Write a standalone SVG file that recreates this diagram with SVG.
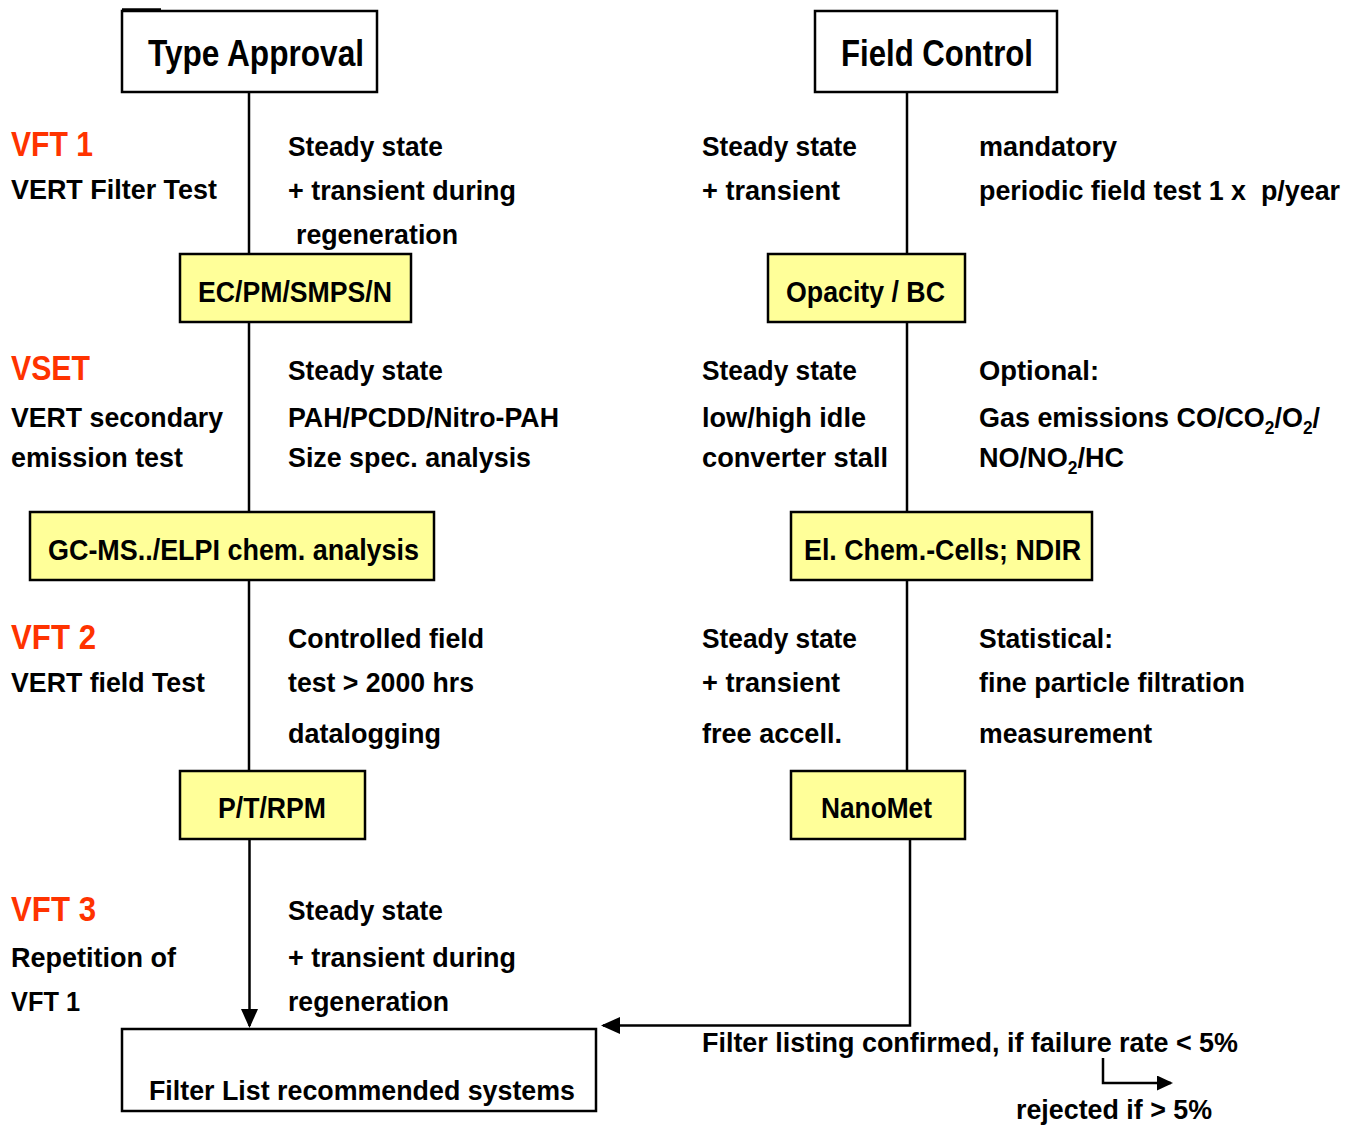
<svg xmlns="http://www.w3.org/2000/svg" width="1358" height="1125" viewBox="0 0 1358 1125">
<style>
text{font-family:"Liberation Sans",Arial,sans-serif;font-weight:bold;fill:#000;}
.b{font-size:28px;}
.r{font-size:35px;fill:#FF3300;}
.t{font-size:37px;}
.n{font-size:29px;}
.wb{fill:#fff;stroke:#000;stroke-width:2.5;}
.yb{fill:#FFFF99;stroke:#000;stroke-width:2.5;}
.c{fill:none;stroke:#000;stroke-width:2.5;}
.s{font-size:18px;}
</style>
<defs>
<marker id="ah" markerWidth="19" markerHeight="17" refX="17" refY="8.5" orient="auto" markerUnits="userSpaceOnUse" viewBox="0 0 19 17">
<path d="M0,0 L19,8.5 L0,17 Z" fill="#000"/>
</marker>
<marker id="ahs" markerWidth="16" markerHeight="15" refX="14" refY="7.5" orient="auto" markerUnits="userSpaceOnUse" viewBox="0 0 16 15">
<path d="M0,0 L16,7.5 L0,15 Z" fill="#000"/>
</marker>
</defs>
<rect width="1358" height="1125" fill="#fff"/>

<g id="connectors">
<line class="c" x1="249" y1="92" x2="249" y2="254"/>
<line class="c" x1="249" y1="322" x2="249" y2="512"/>
<line class="c" x1="249" y1="580" x2="249" y2="771"/>
<line class="c" x1="249.5" y1="839" x2="249.5" y2="1026" marker-end="url(#ah)"/>
<line class="c" x1="907" y1="92" x2="907" y2="254"/>
<line class="c" x1="907" y1="322" x2="907" y2="512"/>
<line class="c" x1="907" y1="580" x2="907" y2="771"/>
<polyline class="c" points="910,839 910,1025.5 603,1025.5" marker-end="url(#ah)"/>
<polyline class="c" points="1103,1058 1103,1083 1171,1083" marker-end="url(#ahs)"/>
</g>

<g id="type-approval">
<rect class="wb" x="122" y="11" width="255" height="81"/>
<line x1="122" y1="9.5" x2="161" y2="9.5" stroke="#000" stroke-width="2.5"/>
<text class="t" x="148" y="66" textLength="216" lengthAdjust="spacingAndGlyphs">Type Approval</text>
</g>
<g id="field-control">
<rect class="wb" x="815" y="11" width="242" height="81"/>
<text class="t" x="841" y="66" textLength="192" lengthAdjust="spacingAndGlyphs">Field Control</text>
</g>
<g id="ec-pm">
<rect class="yb" x="180" y="254" width="231" height="68"/>
<text class="n" x="198" y="302" textLength="194" lengthAdjust="spacingAndGlyphs">EC/PM/SMPS/N</text>
</g>
<g id="opacity">
<rect class="yb" x="768" y="254" width="197" height="68"/>
<text class="n" x="786" y="302" textLength="159" lengthAdjust="spacingAndGlyphs">Opacity / BC</text>
</g>
<g id="gc-ms">
<rect class="yb" x="30" y="512" width="404" height="68"/>
<text class="n" x="48" y="560" textLength="371" lengthAdjust="spacingAndGlyphs">GC-MS../ELPI chem. analysis</text>
</g>
<g id="el-chem">
<rect class="yb" x="791" y="512" width="301" height="68"/>
<text class="n" x="804" y="560" textLength="277" lengthAdjust="spacingAndGlyphs">El. Chem.-Cells; NDIR</text>
</g>
<g id="ptrpm">
<rect class="yb" x="180" y="771" width="185" height="68"/>
<text class="n" x="218" y="818" textLength="108" lengthAdjust="spacingAndGlyphs">P/T/RPM</text>
</g>
<g id="nanomet">
<rect class="yb" x="791" y="771" width="174" height="68"/>
<text class="n" x="821" y="818" textLength="111" lengthAdjust="spacingAndGlyphs">NanoMet</text>
</g>
<g id="filter-list">
<rect class="wb" x="122" y="1029" width="474" height="82"/>
<text class="b" x="149" y="1100" textLength="426" lengthAdjust="spacingAndGlyphs">Filter List recommended systems</text>
</g>

<g id="labels-left">
<text class="r" x="11" y="156" textLength="82" lengthAdjust="spacingAndGlyphs">VFT 1</text>
<text class="b" x="11" y="199" textLength="206" lengthAdjust="spacingAndGlyphs">VERT Filter Test</text>
<text class="r" x="11" y="380" textLength="79" lengthAdjust="spacingAndGlyphs">VSET</text>
<text class="b" x="11" y="427" textLength="212" lengthAdjust="spacingAndGlyphs">VERT secondary</text>
<text class="b" x="11" y="467" textLength="172" lengthAdjust="spacingAndGlyphs">emission test</text>
<text class="r" x="11" y="649" textLength="85" lengthAdjust="spacingAndGlyphs">VFT 2</text>
<text class="b" x="11" y="692" textLength="194" lengthAdjust="spacingAndGlyphs">VERT field Test</text>
<text class="r" x="11" y="921" textLength="85" lengthAdjust="spacingAndGlyphs">VFT 3</text>
<text class="b" x="11" y="967" textLength="165" lengthAdjust="spacingAndGlyphs">Repetition of</text>
<text class="b" x="11" y="1011" textLength="69" lengthAdjust="spacingAndGlyphs">VFT 1</text>
</g>

<g id="labels-col2">
<text class="b" x="288" y="156" textLength="155" lengthAdjust="spacingAndGlyphs">Steady state</text>
<text class="b" x="288" y="200" textLength="228" lengthAdjust="spacingAndGlyphs">+ transient during</text>
<text class="b" x="296" y="244" textLength="162" lengthAdjust="spacingAndGlyphs">regeneration</text>
<text class="b" x="288" y="380" textLength="155" lengthAdjust="spacingAndGlyphs">Steady state</text>
<text class="b" x="288" y="427" textLength="271" lengthAdjust="spacingAndGlyphs">PAH/PCDD/Nitro-PAH</text>
<text class="b" x="288" y="467" textLength="243" lengthAdjust="spacingAndGlyphs">Size spec. analysis</text>
<text class="b" x="288" y="648" textLength="196" lengthAdjust="spacingAndGlyphs">Controlled field</text>
<text class="b" x="288" y="692" textLength="186" lengthAdjust="spacingAndGlyphs">test &gt; 2000 hrs</text>
<text class="b" x="288" y="743" textLength="153" lengthAdjust="spacingAndGlyphs">datalogging</text>
<text class="b" x="288" y="920" textLength="155" lengthAdjust="spacingAndGlyphs">Steady state</text>
<text class="b" x="288" y="967" textLength="228" lengthAdjust="spacingAndGlyphs">+ transient during</text>
<text class="b" x="288" y="1011" textLength="161" lengthAdjust="spacingAndGlyphs">regeneration</text>
</g>

<g id="labels-col3">
<text class="b" x="702" y="156" textLength="155" lengthAdjust="spacingAndGlyphs">Steady state</text>
<text class="b" x="702" y="200" textLength="138" lengthAdjust="spacingAndGlyphs">+ transient</text>
<text class="b" x="702" y="380" textLength="155" lengthAdjust="spacingAndGlyphs">Steady state</text>
<text class="b" x="702" y="427" textLength="164" lengthAdjust="spacingAndGlyphs">low/high idle</text>
<text class="b" x="702" y="467" textLength="186" lengthAdjust="spacingAndGlyphs">converter stall</text>
<text class="b" x="702" y="648" textLength="155" lengthAdjust="spacingAndGlyphs">Steady state</text>
<text class="b" x="702" y="692" textLength="138" lengthAdjust="spacingAndGlyphs">+ transient</text>
<text class="b" x="702" y="743" textLength="140" lengthAdjust="spacingAndGlyphs">free accell.</text>
</g>

<g id="labels-col4">
<text class="b" x="979" y="156" textLength="138" lengthAdjust="spacingAndGlyphs">mandatory</text>
<text class="b" x="979" y="200" textLength="361" lengthAdjust="spacingAndGlyphs" xml:space="preserve">periodic field test 1 x  p/year</text>
<text class="b" x="979" y="380" textLength="120" lengthAdjust="spacingAndGlyphs">Optional:</text>
<text class="b" x="979" y="427" textLength="341" lengthAdjust="spacingAndGlyphs">Gas emissions CO/CO<tspan class="s" baseline-shift="-7">2</tspan>/O<tspan class="s" baseline-shift="-7">2</tspan>/</text>
<text class="b" x="979" y="467" textLength="145" lengthAdjust="spacingAndGlyphs">NO/NO<tspan class="s" baseline-shift="-7">2</tspan>/HC</text>
<text class="b" x="979" y="648" textLength="134" lengthAdjust="spacingAndGlyphs">Statistical:</text>
<text class="b" x="979" y="692" textLength="266" lengthAdjust="spacingAndGlyphs">fine particle filtration</text>
<text class="b" x="979" y="743" textLength="173" lengthAdjust="spacingAndGlyphs">measurement</text>
</g>

<g id="labels-bottom">
<text class="b" x="702" y="1052" textLength="536" lengthAdjust="spacingAndGlyphs">Filter listing confirmed, if failure rate &lt; 5%</text>
<text class="b" x="1016" y="1119" textLength="196" lengthAdjust="spacingAndGlyphs">rejected if &gt; 5%</text>
</g>
</svg>
